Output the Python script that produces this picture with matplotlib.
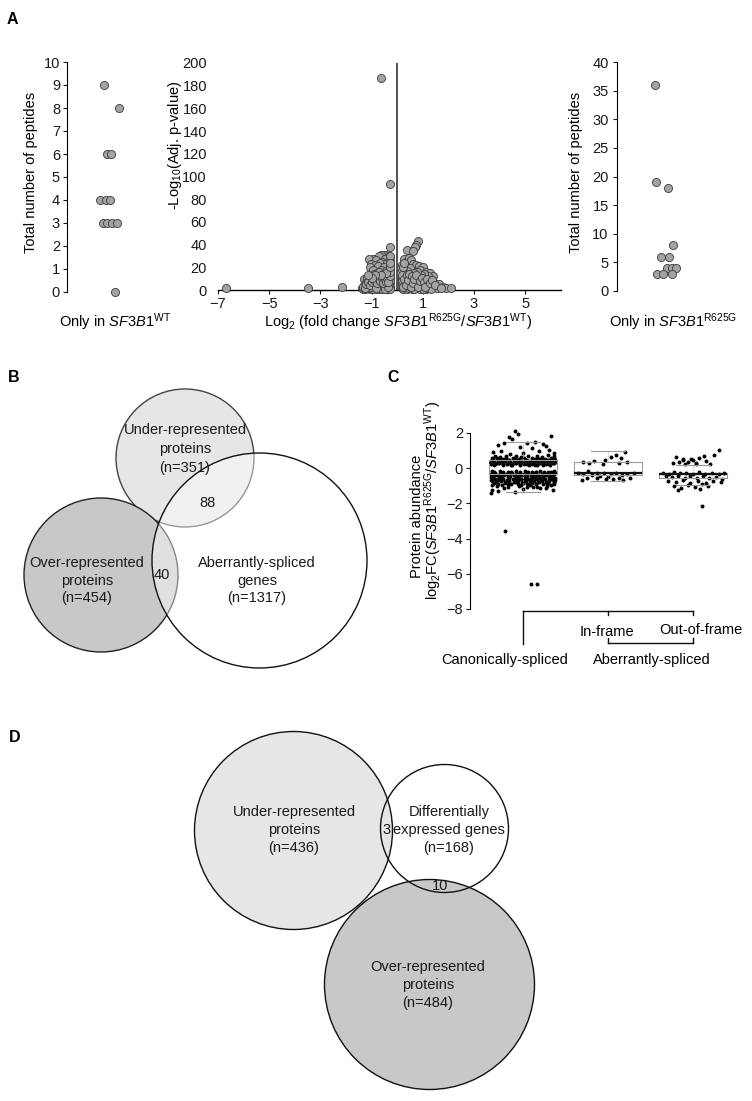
import matplotlib
matplotlib.use("Agg")
import matplotlib.pyplot as plt
from matplotlib.patches import Circle

plt.rcParams['font.family'] = ['Liberation Sans', 'DejaVu Sans']
plt.rcParams['mathtext.fontset'] = 'custom'
plt.rcParams['mathtext.rm'] = 'Liberation Sans'
plt.rcParams['mathtext.it'] = 'Liberation Sans:italic'
plt.rcParams['mathtext.bf'] = 'Liberation Sans:bold'
plt.rcParams['font.size'] = 10.5

# ---------------- data ----------------
# A left: peptides only in WT (jitter offset, count)
wt_jit = [-6, 9, -3, 1, -10, -4, 0, -7, -3, 2, 7, 5]
wt_pep = [9, 8, 6, 6, 4, 4, 4, 3, 3, 3, 3, 0]

# A right: peptides only in R625G
mut_jit = [-10, -9, 3, 8, -4, 4, 2, 7, 11, -8, -2, 7]
mut_pep = [36, 19, 18, 8, 6, 6, 4, 4, 4, 3, 3, 3]

# A middle: volcano (log2 FC, -log10 adj p)
volc_x = [-6.7, -3.5, -2.15, -0.65, -0.30,
          -0.30, -0.42, -0.52, -0.62, -0.72, -0.36, -0.95, -1.12, -0.82, -0.48,
          -0.58, -0.68, -0.40, -1.02, -0.88, -1.08, -0.76, -0.50, -0.30, -0.95,
          -0.62, -0.42, -0.28, -0.28,
          -1.28, -1.18, -1.05, -0.92, -0.80, -0.70, -0.55, -0.46, -0.36, -0.27,
          -0.27, -0.27, -0.85, -0.65, -0.75, -0.50, -1.12, -0.98, -0.40, -0.60,
          -1.38, -1.30, -1.22, -1.15, -1.08, -1.00, -0.93, -0.86, -0.80, -0.74,
          -0.68, -0.62, -0.56, -0.50, -0.45, -0.40, -0.35, -0.30, -0.27, -0.27,
          -1.35, -1.25, -1.10, -0.95, -0.88, -0.78, -0.70, -0.58, -0.52, -0.42,
          -0.33, -0.27, -1.18, -1.02, -0.64, -0.48, -0.37, -0.72, -0.90, -0.55,
          -0.32, -0.27, -0.27, -0.27,
          -1.32, -1.26, -1.20, -1.13, -1.06, -0.99, -0.92, -0.84, -0.77, -0.71,
          -0.66, -0.60, -0.54, -0.47, -0.43, -0.38, -0.34, -0.30, -0.30, -0.45,
          -0.65, -0.85, -1.00, -1.15, -0.27, -0.27,
          0.82, 0.75, 0.68, 0.40, 0.60, 0.25, 0.35, 0.45, 0.55, 0.62,
          0.72, 0.85, 1.00, 0.90, 0.20, 0.30, 0.50, 0.40, 1.12, 1.28,
          1.38, 1.20, 1.05, 0.95, 0.78, 0.65, 0.22, 0.28,
          0.20, 0.32, 0.45, 0.55, 0.70, 0.85, 1.00, 1.15, 1.30, 1.45,
          0.25, 0.40, 0.60, 0.78, 0.92, 1.08, 1.25, 1.40, 1.62, 1.78,
          1.90, 2.10, 1.55,
          0.18, 0.18, 0.22, 0.26, 0.30, 0.34, 0.38, 0.42, 0.48, 0.52,
          0.58, 0.62, 0.68, 0.74, 0.80, 0.88, 0.95, 1.02, 1.12, 1.20,
          1.32, 0.20, 0.24, 0.36, 0.50, 0.66, 0.72, 0.84, 1.00, 0.30,
          0.18, 0.18, 0.18,
          0.20, 0.23, 0.27, 0.33, 0.37, 0.43, 0.47, 0.53, 0.57, 0.63,
          0.67, 0.75, 0.82, 0.88, 0.97, 1.05, 1.10, 1.18, 1.27, 1.35,
          1.48, 1.70, 0.21, 0.26]
volc_y = [1.5, 1.5, 3, 187, 93,
          38, 31, 31, 31, 30, 29, 27, 27, 26, 27,
          25, 24, 24, 23, 22, 20, 21, 20, 22, 18,
          18, 17, 26, 30,
          10, 11, 12, 14, 15, 16, 14, 13, 12, 14,
          18, 10, 11, 10, 12, 9, 8, 9, 8, 7,
          2, 4, 6, 3, 1, 5, 2, 7, 3, 5,
          1, 4, 2, 6, 3, 1, 5, 2, 6, 3,
          1, 1, 2, 1, 4, 1, 3, 1, 4, 5,
          1, 1, 4, 3, 6, 1, 3, 8, 6, 8,
          9, 22, 8, 12,
          3, 2, 5, 7, 4, 7, 9, 2, 6, 10,
          8, 11, 6, 10, 7, 11, 7, 12, 16, 15,
          13, 13, 11, 13, 20, 24,
          43, 40, 38, 35, 34, 27, 25, 28, 26, 23,
          22, 21, 20, 18, 22, 20, 19, 17, 16, 15,
          12, 12, 14, 13, 16, 15, 16, 13,
          10, 11, 12, 10, 11, 10, 9, 8, 7, 6,
          8, 7, 8, 7, 6, 5, 4, 3, 5, 3,
          2, 2, 2,
          2, 5, 1, 4, 2, 6, 1, 4, 2, 5,
          1, 3, 5, 2, 4, 1, 3, 2, 1, 2,
          1, 7, 12, 9, 7, 1, 8, 5, 1, 15,
          18, 9, 12,
          13, 3, 10, 4, 13, 9, 14, 3, 12, 6,
          10, 13, 3, 8, 11, 7, 3, 10, 6, 9,
          4, 2, 20, 24]

# C: protein abundance (jitter offset from group centre, log2FC)
canon_x = [-0.10, -0.06, -0.17, -0.13, 0.33, -0.30, -0.22, 0.05, 0.14, 0.24,
           -0.04, 0.10, 0.30, -0.26, 0.19, -0.35, 0.00, 0.36, -0.15, 0.27,
           -0.33, -0.20, -0.08, 0.06, 0.16, 0.29, 0.37,
           -0.37, -0.27, -0.12, -0.02, 0.11, 0.22, 0.33,
           -0.35, -0.24, -0.16, -0.05, 0.03, 0.13, 0.20, 0.28, 0.36,
           -0.38, -0.30, -0.21, -0.11, -0.01, 0.08, 0.17, 0.25, 0.34,
           -0.36, -0.26, -0.17, -0.07, 0.04, 0.12, 0.21, 0.30, 0.37,
           -0.38, -0.29, -0.19, -0.09, 0.01, 0.10, 0.19, 0.27, 0.35,
           -0.34, -0.23, -0.13, -0.03, 0.07, 0.16, 0.24, 0.32,
           -0.37, -0.27, -0.18, -0.08, 0.02, 0.11, 0.20, 0.29, 0.37,
           -0.33, -0.23, -0.13, -0.03, 0.06, 0.15, 0.25, 0.34,
           -0.38, -0.29, -0.19, -0.09, 0.01, 0.10, 0.19, 0.28, 0.36,
           -0.35, -0.25, -0.15, -0.05, 0.05, 0.14, 0.23, 0.32,
           -0.37, -0.28, -0.18, -0.08, 0.02, 0.11, 0.20, 0.30, 0.38,
           -0.33, -0.23, -0.12, -0.02, 0.08, 0.17, 0.26, 0.35,
           -0.36, -0.26, -0.16, -0.06, 0.04, 0.13, 0.22, 0.31,
           -0.34, -0.21, -0.10, 0.00, 0.10, 0.19, 0.29, 0.37,
           -0.37, -0.25, -0.14, -0.02, 0.08, 0.23, 0.33,
           -0.31, -0.18, -0.05, 0.05, 0.17, 0.28,
           -0.38, -0.30, -0.36, -0.10, 0.00, 0.20, 0.35, -0.22, 0.12, 0.27,
           -0.21, 0.09, 0.17]
canon_y = [2.10, 1.95, 1.75, 1.65, 1.85, 1.30, 1.42, 1.45, 1.50, 1.38,
           1.22, 1.12, 1.05, 1.00, 0.95, 0.92, 0.88, 0.85, 0.82, 1.25,
           0.70, 0.72, 0.68, 0.71, 0.69, 0.73, 0.67,
           0.60, 0.62, 0.58, 0.61, 0.59, 0.63, 0.60,
           0.50, 0.52, 0.49, 0.51, 0.48, 0.53, 0.50, 0.49, 0.52,
           0.42, 0.43, 0.41, 0.44, 0.42, 0.40, 0.43, 0.41, 0.44,
           0.34, 0.35, 0.33, 0.36, 0.34, 0.32, 0.35, 0.33, 0.36,
           0.26, 0.27, 0.25, 0.28, 0.26, 0.24, 0.27, 0.25, 0.28,
           0.18, 0.19, 0.17, 0.20, 0.18, 0.16, 0.19, 0.17,
           -0.18, -0.17, -0.19, -0.16, -0.18, -0.20, -0.17, -0.19, -0.18,
           -0.26, -0.27, -0.25, -0.28, -0.26, -0.24, -0.27, -0.25,
           -0.35, -0.36, -0.34, -0.37, -0.35, -0.33, -0.36, -0.34, -0.35,
           -0.44, -0.45, -0.43, -0.46, -0.44, -0.42, -0.45, -0.43,
           -0.53, -0.54, -0.52, -0.55, -0.53, -0.51, -0.54, -0.52, -0.53,
           -0.62, -0.63, -0.61, -0.64, -0.62, -0.60, -0.63, -0.61,
           -0.72, -0.73, -0.71, -0.74, -0.72, -0.70, -0.73, -0.71,
           -0.82, -0.83, -0.81, -0.84, -0.82, -0.80, -0.83, -0.81,
           -0.93, -0.94, -0.92, -0.95, -0.93, -0.91, -0.94,
           -1.03, -1.05, -1.02, -1.06, -1.04, -1.01,
           -1.40, -1.30, -1.22, -1.35, -1.18, -1.12, -1.25, -1.12, -1.08, -1.15,
           -3.55, -6.60, -6.60]
# the dense bands of the canonical group, read between the rows above
canon_band_x = [-0.33, -0.24, -0.14, -0.04, 0.05, 0.14, 0.23, 0.31,
                -0.37, -0.28, -0.18, -0.08, 0.02, 0.11, 0.20, 0.29, 0.36,
                -0.34, -0.25, -0.15, -0.05, 0.06, 0.15, 0.24, 0.33,
                -0.37, -0.27, -0.17, -0.07, 0.03, 0.12, 0.22, 0.31, 0.38,
                -0.31, -0.20, -0.09, 0.01, 0.16, 0.26, 0.37,
                -0.34, -0.24, -0.14, -0.04, 0.06, 0.15, 0.25, 0.33,
                -0.37, -0.27, -0.17, -0.07, 0.03, 0.12, 0.22, 0.31, 0.38,
                -0.33, -0.22, -0.11, -0.01, 0.09, 0.18, 0.27, 0.35,
                -0.38, -0.28, -0.17, -0.07, 0.04, 0.13, 0.23, 0.33,
                -0.36, -0.26, -0.16, -0.06, 0.05, 0.15, 0.24, 0.34,
                -0.38, -0.29, -0.19, -0.09, 0.01, 0.11, 0.21, 0.30, 0.38,
                -0.32, -0.21, -0.11, -0.01, 0.08, 0.18, 0.27, 0.36,
                -0.30, -0.18, -0.06, 0.05, 0.15, 0.28, 0.37]
canon_band_y = [0.22, 0.23, 0.21, 0.22, 0.23, 0.21, 0.22, 0.23,
                0.30, 0.31, 0.29, 0.30, 0.31, 0.29, 0.30, 0.31, 0.29,
                0.38, 0.39, 0.37, 0.38, 0.39, 0.37, 0.38, 0.39,
                0.46, 0.47, 0.45, 0.46, 0.47, 0.45, 0.46, 0.47, 0.45,
                0.56, 0.57, 0.55, 0.56, 0.57, 0.55, 0.56,
                -0.22, -0.23, -0.21, -0.22, -0.23, -0.21, -0.22, -0.23,
                -0.31, -0.32, -0.30, -0.31, -0.32, -0.30, -0.31, -0.32, -0.30,
                -0.40, -0.41, -0.39, -0.40, -0.41, -0.39, -0.40, -0.41,
                -0.49, -0.50, -0.48, -0.49, -0.50, -0.48, -0.49, -0.50,
                -0.58, -0.59, -0.57, -0.58, -0.59, -0.57, -0.58, -0.59,
                -0.67, -0.68, -0.66, -0.67, -0.68, -0.66, -0.67, -0.68, -0.66,
                -0.77, -0.78, -0.76, -0.77, -0.78, -0.76, -0.77, -0.78,
                -0.88, -0.89, -0.87, -0.88, -0.89, -0.87, -0.88]

inframe_x = [0.20, 0.04, 0.09, 0.15, 0.22, -0.04, -0.17, -0.22, -0.29, -0.06,
             0.13, -0.35, -0.29, -0.23, -0.19, -0.13, -0.10, -0.05, 0.00, 0.04,
             0.06, 0.09, 0.13, 0.16, 0.18, 0.22, 0.26, -0.31, -0.25, -0.02,
             0.30, -0.13]
inframe_y = [0.93, 0.64, 0.74, 0.60, 0.36, 0.45, 0.41, 0.28, 0.36, 0.22,
             0.28, -0.25, -0.34, -0.15, -0.38, -0.25, -0.43, -0.30, -0.49, -0.34,
             -0.62, -0.25, -0.53, -0.38, -0.68, -0.34, -0.53, -0.68, -0.53, -0.62,
             -0.25, -0.53]

outframe_x = [-0.20, -0.16, -0.12, -0.06, 0.00, 0.04, -0.12, -0.02, 0.07, 0.03,
              -0.10, 0.20, 0.13, 0.25, 0.31, -0.24, 0.15,
              -0.35, -0.28, -0.22, -0.15, -0.08, 0.00, 0.07, 0.14, 0.22, 0.30, 0.36,
              -0.32, -0.25, -0.18, -0.10, -0.03, 0.05, 0.12, 0.19, 0.27, 0.34,
              -0.30, -0.20, -0.12, -0.04, 0.06, 0.15, 0.24, 0.33,
              -0.22, -0.14, -0.06, 0.02, 0.10, 0.18, -0.18, 0.08,
              0.11]
outframe_y = [0.64, 0.36, 0.49, 0.36, 0.49, 0.28, 0.55, 0.55, 0.57, 0.25,
              0.25, 0.25, 0.72, 0.74, 1.05, 0.30, 0.40,
              -0.25, -0.32, -0.22, -0.30, -0.26, -0.33, -0.24, -0.31, -0.27, -0.35, -0.28,
              -0.45, -0.52, -0.42, -0.55, -0.47, -0.58, -0.44, -0.53, -0.48, -0.60,
              -0.70, -0.78, -0.68, -0.85, -0.74, -0.82, -0.70, -0.78,
              -1.00, -1.12, -0.95, -1.05, -0.92, -1.00, -1.25, -1.20,
              -2.15]

# box summaries: (q1, median, q3, whisker low, whisker high)
box_stats = [(-0.35, 0.30, 0.45, -1.35, 1.50),
             (-0.40, -0.30, 0.33, -0.70, 0.95),
             (-0.55, -0.35, -0.25, -0.95, 0.20)]

# Venn labels
venn_b_sets = ["Under-represented\nproteins\n(n=351)",
               "Over-represented\nproteins\n(n=454)",
               "Aberrantly-spliced\ngenes\n(n=1317)"]
venn_b_overlaps = ["88", "40"]
venn_d_sets = ["Under-represented\nproteins\n(n=436)",
               "Differentially\nexpressed genes\n(n=168)",
               "Over-represented\nproteins\n(n=484)"]
venn_d_overlaps = ["3", "10"]

# ---------------- figure ----------------
W, H = 752, 1101
fig = plt.figure(figsize=(W / 100, H / 100), dpi=100)


def px_axes(left, top, right, bottom):
    return fig.add_axes([left / W, 1 - bottom / H, (right - left) / W, (bottom - top) / H])


def px_text(x, y, s, **kw):
    kw.setdefault('ha', 'center')
    kw.setdefault('va', 'center')
    fig.text(x / W, 1 - y / H, s, **kw)


# overlay in pixel coordinates for the Venn diagrams
ov = fig.add_axes([0, 0, 1, 1])
ov.set_xlim(0, W)
ov.set_ylim(H, 0)
ov.axis('off')

dot_face = '#a3a3a3'
dot_edge = '#3a3a3a'
tick_col = '#1a1a1a'

# --- A left strip
ax1 = px_axes(67, 62, 150, 292)
ax1.scatter([110 + j for j in wt_jit], wt_pep, s=34, c=dot_face,
            edgecolors=dot_edge, linewidths=0.6, clip_on=False, zorder=3)
ax1.set_xlim(67, 150)
ax1.set_ylim(0, 10)
ax1.set_yticks(range(0, 11))
ax1.set_xticks([])
for s in ['top', 'right', 'bottom']:
    ax1.spines[s].set_visible(False)
ax1.tick_params(axis='y', length=3, width=0.8, pad=2, colors=tick_col)
px_text(31, 172, "Total number of peptides", rotation=90)
px_text(115, 322, r"Only in $\mathit{SF3B1}^{\mathrm{WT}}$")

# --- A volcano
ax2 = px_axes(218, 63, 561, 290)
ax2.scatter(volc_x, volc_y, s=34, c=dot_face, edgecolors=dot_edge,
            linewidths=0.6, clip_on=False, zorder=3)
ax2.axvline(0, color='#333333', lw=1.2, zorder=2)
ax2.set_xlim(-7, 6.4)
ax2.set_ylim(0, 200)
ax2.set_xticks([-7, -5, -3, -1, 1, 3, 5])
ax2.set_yticks(range(0, 201, 20))
for s in ['top', 'right', 'left']:
    ax2.spines[s].set_visible(False)
ax2.spines['bottom'].set_linewidth(1.0)
ax2.tick_params(axis='x', length=3, width=0.8, pad=2, colors=tick_col)
ax2.tick_params(axis='y', length=0, pad=8, colors=tick_col)
px_text(175, 145, r"-Log$_{10}$(Adj. p-value)", rotation=90)
px_text(398, 322, r"Log$_2$ (fold change $\mathit{SF3B1}^{\mathrm{R625G}}$/$\mathit{SF3B1}^{\mathrm{WT}}$)")

# --- A right strip
ax3 = px_axes(617, 62, 720, 291)
ax3.scatter([665 + j for j in mut_jit], mut_pep, s=34, c=dot_face,
            edgecolors=dot_edge, linewidths=0.6, clip_on=False, zorder=3)
ax3.set_xlim(617, 720)
ax3.set_ylim(0, 40)
ax3.set_yticks(range(0, 41, 5))
ax3.set_xticks([])
for s in ['top', 'right', 'bottom']:
    ax3.spines[s].set_visible(False)
ax3.tick_params(axis='y', length=3, width=0.8, pad=3, colors=tick_col)
px_text(576, 172, "Total number of peptides", rotation=90)
px_text(673, 322, r"Only in $\mathit{SF3B1}^{\mathrm{R625G}}$")

# --- C box + strip
ax4 = px_axes(470, 433, 735, 609)
ax4.set_xlim(0.376, 3.494)
ax4.set_ylim(-8, 2)
groups = [(1, canon_x + canon_band_x, canon_y + canon_band_y),
          (2, inframe_x, inframe_y),
          (3, outframe_x, outframe_y)]
for pos, xs, ys in groups:
    ax4.scatter([pos + v for v in xs], ys, s=8, c='black', linewidths=0, zorder=2, clip_on=False)
stats = [dict(q1=q1, med=m, q3=q3, whislo=lo, whishi=hi, fliers=[])
         for q1, m, q3, lo, hi in box_stats]
ax4.bxp(stats, positions=[1, 2, 3], widths=0.8, showfliers=False, manage_ticks=False,
        boxprops=dict(color='#9a9a9a', lw=0.8),
        whiskerprops=dict(color='#b0b0b0', lw=0.8, ls=':'),
        capprops=dict(color='#9a9a9a', lw=0.8),
        medianprops=dict(color='#111111', lw=1.6),
        capwidths=0.4, zorder=3)
ax4.set_xticks([])
ax4.set_yticks(range(-8, 3, 2))
for s in ['top', 'right', 'bottom']:
    ax4.spines[s].set_visible(False)
ax4.tick_params(axis='y', length=3, width=0.8, pad=2, colors=tick_col)
# bracket under panel C
br = dict(color='#111111', lw=1.0, clip_on=False)
ax4.plot([1, 1], [-8.11, -9.99], **br)
ax4.plot([1, 3], [-8.11, -8.11], **br)
ax4.plot([2, 2], [-8.11, -8.34], **br)
ax4.plot([3, 3], [-8.11, -8.34], **br)
ax4.plot([2, 3], [-9.93, -9.93], **br)
ax4.plot([2, 2], [-9.93, -9.65], **br)
ax4.plot([3, 3], [-9.93, -9.65], **br)
px_text(607, 632, "In-frame")
px_text(701, 630, "Out-of-frame")
px_text(505, 660, "Canonically-spliced")
px_text(652, 660, "Aberrantly-spliced")
px_text(417, 516, "Protein abundance", rotation=90)
px_text(433, 500, r"log$_2$FC($\mathit{SF3B1}^{\mathrm{R625G}}$/$\mathit{SF3B1}^{\mathrm{WT}}$)", rotation=90)

# --- B Venn
light = '#e6e6e6'
mid = '#c8c8c8'
ov.add_patch(Circle((185, 458), 69, facecolor=light, edgecolor='#444444', lw=1.0))
ov.add_patch(Circle((101, 575), 77, facecolor=mid, edgecolor='#222222', lw=1.0))
ov.add_patch(Circle((259.5, 560.5), 107.5, facecolor='white', alpha=0.45, edgecolor='none'))
ov.add_patch(Circle((259.5, 560.5), 107.5, facecolor='none', edgecolor='#111111', lw=1.0))


def venn_label(x, y_top, text, step=18):
    for i, line in enumerate(text.split("\n")):
        ov.text(x, y_top + i * step, line, ha='center', va='center', color='#1a1a1a')


venn_label(185, 430, venn_b_sets[0], step=19)
venn_label(87, 563, venn_b_sets[1], step=17.5)
venn_label(257, 563, venn_b_sets[2], step=17.5)
ov.text(207, 503, venn_b_overlaps[0], ha='center', va='center', color='#1a1a1a')
ov.text(162, 575, venn_b_overlaps[1], ha='center', va='center', color='#1a1a1a')

# --- D Venn
ov.add_patch(Circle((293.5, 830.5), 99, facecolor=light, edgecolor='none'))
ov.add_patch(Circle((429.5, 984.5), 105, facecolor=mid, edgecolor='none'))
for c, r in [((293.5, 830.5), 99), ((429.5, 984.5), 105), ((444.5, 828.5), 64)]:
    ov.add_patch(Circle(c, r, facecolor='none', edgecolor='#111111', lw=1.0))
venn_label(294, 812, venn_d_sets[0])
venn_label(449, 812, venn_d_sets[1])
venn_label(428, 967, venn_d_sets[2])
ov.text(387, 830, venn_d_overlaps[0], ha='center', va='center', color='#1a1a1a')
ov.text(440, 886, venn_d_overlaps[1], ha='center', va='center', color='#1a1a1a')

# panel letters
for letter, x, y in [("A", 12, 19), ("B", 14, 377), ("C", 393, 377), ("D", 15, 737)]:
    px_text(x, y, letter, fontsize=11.5, fontweight='bold')

fig.savefig("out.png", dpi=100)
